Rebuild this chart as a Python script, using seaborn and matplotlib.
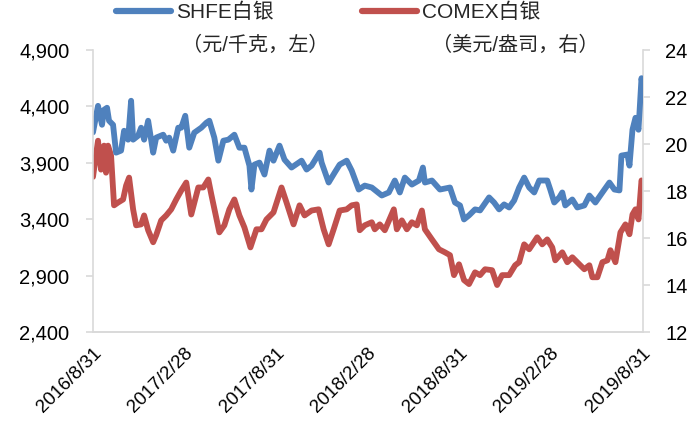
import matplotlib
matplotlib.use("Agg")
import matplotlib.pyplot as plt
import matplotlib.ticker as mticker
from matplotlib.lines import Line2D
import seaborn as sns
import pandas as pd

# SHFE silver, CNY per kg (left axis)
shfe_dates = [
    "2016-08-31", "2016-09-10", "2016-09-18", "2016-09-22", "2016-09-28", "2016-10-02",
    "2016-10-10", "2016-10-16", "2016-10-26", "2016-11-01", "2016-11-09", "2016-11-15",
    "2016-11-19", "2016-11-29", "2016-12-05", "2016-12-11", "2016-12-19", "2016-12-29",
    "2017-01-04", "2017-01-18", "2017-01-24", "2017-01-30", "2017-02-07", "2017-02-17",
    "2017-02-23", "2017-03-03", "2017-03-11", "2017-03-21", "2017-04-04", "2017-04-14",
    "2017-04-20", "2017-04-30", "2017-05-08", "2017-05-18", "2017-05-28", "2017-06-09",
    "2017-06-19", "2017-06-29", "2017-07-09", "2017-07-13", "2017-07-19", "2017-07-29",
    "2017-08-08", "2017-08-18", "2017-08-26", "2017-09-07", "2017-09-17", "2017-10-01",
    "2017-10-21", "2017-10-31", "2017-11-10", "2017-11-26", "2017-11-30", "2017-12-14",
    "2017-12-26", "2018-01-05", "2018-01-19", "2018-01-29", "2018-02-12", "2018-02-24",
    "2018-03-10", "2018-03-30", "2018-04-13", "2018-04-25", "2018-05-05", "2018-05-15",
    "2018-05-29", "2018-06-12", "2018-06-20", "2018-06-24", "2018-07-08", "2018-07-24",
    "2018-08-13", "2018-08-23", "2018-09-02", "2018-09-10", "2018-09-20", "2018-10-02",
    "2018-10-12", "2018-10-30", "2018-11-09", "2018-11-19", "2018-11-29", "2018-12-09",
    "2018-12-19", "2018-12-29", "2019-01-08", "2019-01-18", "2019-01-28", "2019-02-07",
    "2019-02-23", "2019-03-01", "2019-03-09", "2019-03-19", "2019-03-25", "2019-03-31",
    "2019-04-14", "2019-04-24", "2019-05-08", "2019-05-18", "2019-05-30", "2019-06-13",
    "2019-06-27", "2019-07-07", "2019-07-17", "2019-07-21", "2019-08-02", "2019-08-06",
    "2019-08-12", "2019-08-18", "2019-08-24", "2019-08-30", "2019-09-02",
]
shfe_values = [
    4170, 4405, 4237, 4370, 4388, 4273,
    4237, 3990, 4008, 4184, 4105, 4450,
    4105, 4140, 4211, 4105, 4273, 3990,
    4123, 4149, 4096, 4123, 4008, 4211,
    4211, 4317, 4034, 4167, 4211, 4255,
    4273, 4123, 3919, 4096, 4105, 4149,
    4034, 4034, 3875, 3663, 3884, 3902,
    3796, 4008, 3919, 4052, 3928, 3858,
    3919, 3840, 3875, 3990, 3902, 3725,
    3813, 3884, 3919, 3831, 3663, 3698,
    3681, 3610, 3637, 3743, 3637, 3769,
    3707, 3743, 3858, 3725, 3743, 3663,
    3681, 3548, 3522, 3398, 3434, 3487,
    3478, 3593, 3548, 3487, 3531, 3504,
    3566, 3681, 3769, 3681, 3637, 3743,
    3743, 3663, 3548, 3593, 3637, 3522,
    3575, 3504, 3522, 3610, 3548, 3637,
    3725, 3663, 3655, 3964, 3973, 3875,
    4193, 4299, 4193, 4650, 4560,
]

# COMEX silver, USD per ounce (right axis)
comex_dates = [
    "2016-08-31", "2016-09-10", "2016-09-16", "2016-09-22", "2016-09-26", "2016-09-30",
    "2016-10-06", "2016-10-12", "2016-10-20", "2016-10-30", "2016-11-05", "2016-11-11",
    "2016-11-19", "2016-11-25", "2016-12-05", "2016-12-11", "2016-12-19", "2016-12-29",
    "2017-01-04", "2017-01-14", "2017-01-24", "2017-02-03", "2017-02-13", "2017-02-23",
    "2017-03-05", "2017-03-15", "2017-03-29", "2017-04-08", "2017-04-18", "2017-04-24",
    "2017-05-10", "2017-05-20", "2017-05-30", "2017-06-09", "2017-06-19", "2017-06-29",
    "2017-07-11", "2017-07-23", "2017-08-02", "2017-08-12", "2017-08-26", "2017-09-11",
    "2017-09-21", "2017-10-05", "2017-10-17", "2017-10-27", "2017-11-10", "2017-11-24",
    "2017-12-04", "2017-12-14", "2017-12-24", "2018-01-05", "2018-01-19", "2018-01-29",
    "2018-02-08", "2018-02-14", "2018-02-24", "2018-03-10", "2018-03-16", "2018-03-26",
    "2018-04-05", "2018-04-23", "2018-04-29", "2018-05-09", "2018-05-19", "2018-05-29",
    "2018-06-08", "2018-06-18", "2018-06-24", "2018-07-08", "2018-07-22", "2018-08-03",
    "2018-08-13", "2018-08-21", "2018-08-31", "2018-09-10", "2018-09-20", "2018-10-02",
    "2018-10-12", "2018-10-22", "2018-11-05", "2018-11-15", "2018-11-25", "2018-12-09",
    "2018-12-21", "2018-12-29", "2019-01-08", "2019-01-18", "2019-02-03", "2019-02-13",
    "2019-02-23", "2019-03-05", "2019-03-11", "2019-03-25", "2019-04-04", "2019-04-14",
    "2019-04-28", "2019-05-08", "2019-05-18", "2019-05-24", "2019-06-03", "2019-06-13",
    "2019-06-23", "2019-06-29", "2019-07-09", "2019-07-19", "2019-07-29", "2019-08-06",
    "2019-08-12", "2019-08-18", "2019-08-24", "2019-08-30", "2019-09-02",
]
comex_values = [
    18.60, 20.14, 18.91, 19.93, 18.78, 19.93,
    19.51, 17.39, 17.51, 17.64, 18.23, 18.57,
    17.22, 16.54, 16.58, 16.96, 16.33, 15.82,
    16.12, 16.75, 16.96, 17.22, 17.64, 18.02,
    18.36, 17.00, 18.15, 18.15, 18.49, 17.85,
    16.24, 16.54, 17.22, 17.64, 16.96, 16.45,
    15.60, 16.37, 16.37, 16.79, 17.09, 18.15,
    17.51, 16.58, 17.39, 16.96, 17.17, 17.22,
    16.37, 15.73, 16.37, 17.17, 17.22, 17.39,
    17.43, 16.33, 16.54, 16.67, 16.37, 16.58,
    16.33, 17.22, 16.37, 16.75, 16.37, 16.67,
    16.54, 17.17, 16.37, 15.94, 15.52, 15.39,
    15.27, 14.42, 14.88, 14.21, 14.04, 14.54,
    14.42, 14.67, 14.63, 14.00, 14.42, 14.42,
    14.84, 14.97, 15.73, 15.52, 16.03, 15.73,
    15.94, 15.60, 15.05, 15.39, 14.97, 15.18,
    14.88, 14.67, 14.84, 14.33, 14.33, 14.97,
    15.05, 15.48, 14.97, 16.24, 16.58, 16.16,
    17.00, 17.22, 16.79, 18.45, 18.30,
]

tick_dates = ["2016-08-31", "2017-02-28", "2017-08-31", "2018-02-28",
              "2018-08-31", "2019-02-28", "2019-08-31"]
left_ticks = [2400, 2900, 3400, 3900, 4400, 4900]
right_ticks = [12, 14, 16, 18, 20, 22, 24]

shfe_label = "SHFE白银"
comex_label = "COMEX白银"
shfe_unit = "（元/千克，左）"
comex_unit = "（美元/盎司，右）"

BLUE = "#4F81BD"
RED = "#C0504D"
GRID = "#D9D9D9"

sns.set_theme(style="white")
plt.rcParams["font.family"] = ["Liberation Sans", "Noto Sans CJK SC"]

shfe = pd.DataFrame({"date": pd.to_datetime(shfe_dates), "value": shfe_values})
comex = pd.DataFrame({"date": pd.to_datetime(comex_dates), "value": comex_values})

W, H = 700, 428
fig = plt.figure(figsize=(W / 100, H / 100), dpi=100)
ax = fig.add_axes([93 / W, 1 - 332 / H, 550 / W, 282 / H])
ax2 = ax.twinx()

sns.lineplot(data=shfe, x="date", y="value", ax=ax, color=BLUE, linewidth=4.2,
             solid_capstyle="round", solid_joinstyle="round")
sns.lineplot(data=comex, x="date", y="value", ax=ax2, color=RED, linewidth=4.2,
             solid_capstyle="round", solid_joinstyle="round")
# keep the left series on top of the twin axis
ax.set_zorder(ax2.get_zorder() + 1)
ax.patch.set_visible(False)

xmin, xmax = pd.Timestamp("2016-08-31"), pd.Timestamp("2019-09-02")
ax.set_xlim(xmin, xmax)
ax.set_ylim(2400, 4900)
ax2.set_ylim(12, 24)

ticks = pd.to_datetime(tick_dates)
ax.set_xticks(ticks)
ax.set_xticklabels([f"{d.year}/{d.month}/{d.day}" for d in ticks],
                   rotation=45, ha="right", rotation_mode="anchor")
ax.set_yticks(left_ticks)
ax.yaxis.set_major_formatter(mticker.FuncFormatter(lambda v, p: f"{int(v):,}"))
ax2.set_yticks(right_ticks)

for a in (ax, ax2):
    a.set_xlabel("")
    a.set_ylabel("")
    a.grid(False)
    a.spines["top"].set_visible(False)
    for s in ("left", "right", "bottom"):
        a.spines[s].set_color(GRID)
        a.spines[s].set_linewidth(1.2)
    a.tick_params(axis="both", which="major", direction="out", length=5,
                  width=1.2, color=GRID, labelsize=14.5, labelcolor="black")
ax.spines["right"].set_visible(False)
ax2.spines["left"].set_visible(False)
ax.tick_params(axis="x", labelsize=13.5, pad=4, length=5)
ax.tick_params(axis="y", pad=12)
ax2.tick_params(axis="y", pad=11)

handles = [Line2D([0], [0], color=BLUE, linewidth=4.5, solid_capstyle="round"),
           Line2D([0], [0], color=RED, linewidth=4.5, solid_capstyle="round")]
fig.legend(handles, [shfe_label, comex_label], loc="upper left",
           bbox_to_anchor=(116 / W, 1 - 3 / H), ncol=2, frameon=False,
           borderpad=0, borderaxespad=0,
           fontsize=15, handlelength=2.65, handletextpad=0.25, columnspacing=4.2)
fig.text(182 / W, 1 - 45 / H, shfe_unit, fontsize=14.5, ha="left", va="center")
fig.text(432 / W, 1 - 45 / H, comex_unit, fontsize=14.5, ha="left", va="center")

fig.savefig("out.png", dpi=100)
